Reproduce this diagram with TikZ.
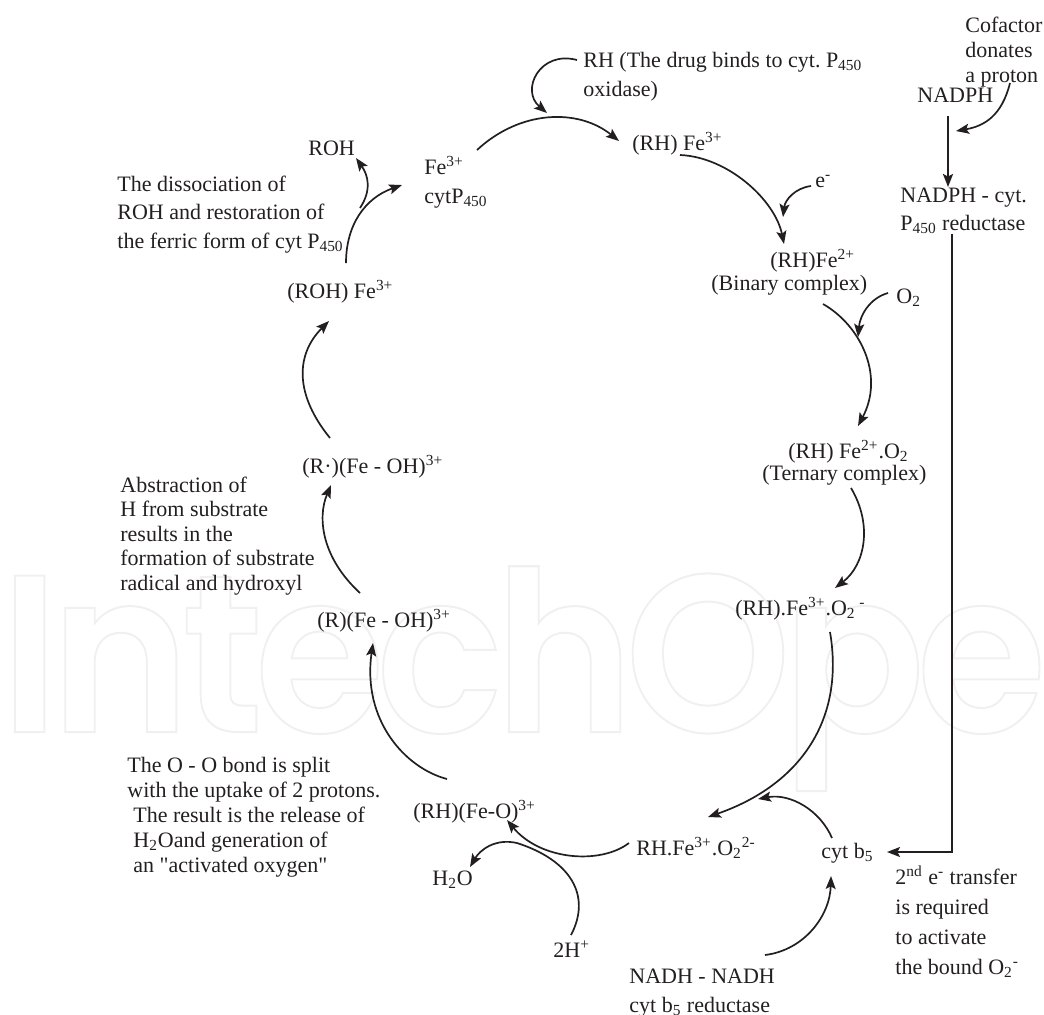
\documentclass[tikz,border=0pt]{standalone}
\usepackage{fontspec}
\setmainfont{Liberation Serif}
\newfontfamily\quotefont{Liberation Serif}
\newfontfamily\markfont[UprightFont=* SemiBold,LetterSpace=-4]{Poppins}
\usetikzlibrary{arrows.meta}
\definecolor{inkdark}{HTML}{231F20}
\tikzset{
    lbl/.style={inner sep=0pt, anchor=base west, align=left, text=inkdark, font=\fontsize{11}{14.5}\selectfont},
    arc/.style={draw=inkdark, line width=0.85pt, -{Stealth[length=6.5pt,width=5pt,inset=1.3pt]}},
    watermark/.style={inner sep=0pt, anchor=base west, xscale=0.94, transform shape, font=\markfont\fontsize{112}{112}\selectfont}
}

\begin{document}
\begin{tikzpicture}[x=0.5pt, y=-0.5pt]
    \useasboundingbox (0,0) rectangle (1044,1014);

    % watermark
    \node[watermark] (intech) at (0,732) {\special{pdf:code 1 Tr 1 w 0.94 G}IntechOpen\special{pdf:code 0 Tr 0 G}};

    % upper half of the cycle
    \node[lbl] (fe) at (424,203) {Fe\textsuperscript{3+}\\cytP\textsubscript{450}};
    \node[lbl] (drug) at (583,96) {RH (The drug binds to cyt.\ P\textsubscript{450}\\oxidase)};
    \node[lbl] (rhfe) at (632,150) {(RH) Fe\textsuperscript{3+}};
    \node[lbl] (elec) at (815,187) {e\textsuperscript{-}};
    \node[lbl] (rhfeii) at (770,267) {(RH)Fe\textsuperscript{2+}};
    \node[lbl] (binary) at (711,290) {(Binary complex)};
    \node[lbl] (oxy) at (896,303) {O\textsubscript{2}};
    \node[lbl] (ternfe) at (788,458) {(RH) Fe\textsuperscript{2+}.O\textsubscript{2}};
    \node[lbl] (ternary) at (762,480) {(Ternary complex)};
    \node[lbl] (supero) at (735,615) {(RH).Fe\textsuperscript{3+}.O\textsubscript{2}\,\textsuperscript{-}};

    % lower half of the cycle
    \node[lbl] (peroxo) at (636,855) {RH.Fe\textsuperscript{3+}.O\textsubscript{2}\textsuperscript{2-}};
    \node[lbl] (feo) at (413,818) {(RH)(Fe-O)\textsuperscript{3+}};
    \node[lbl] (water) at (432,885) {H\textsubscript{2}O};
    \node[lbl] (twoh) at (553,957) {2H\textsuperscript{+}};
    \node[lbl] (rfe) at (317,627) {(R)(Fe - OH)\textsuperscript{3+}};
    \node[lbl] (rdot) at (302,473) {(R\textperiodcentered)(Fe - OH)\textsuperscript{3+}};
    \node[lbl] (rohfe) at (287,298) {(ROH) Fe\textsuperscript{3+}};
    \node[lbl] (roh) at (308,155) {ROH};

    % electron supply
    \node[lbl, font=\fontsize{11}{12.5}\selectfont] (cofactor) at (965,82) {Cofactor\\donates\\a proton};
    \node[lbl] (nadph) at (917,102) {NADPH};
    \node[lbl, font=\fontsize{11}{14}\selectfont] (reductase) at (900,230) {NADPH - cyt.\\P\textsubscript{450} reductase};
    \node[lbl] (cytb) at (821,858) {cyt b\textsubscript{5}};
    \node[lbl] (nadh) at (629,1012) {NADH - NADH\\cyt b\textsubscript{5} reductase};

    % notes
    \node[lbl, font=\fontsize{11}{14.25}\selectfont] (dissnote) at (117,248) {The dissociation of\\ROH and restoration of\\the ferric form of cyt P\textsubscript{450}};
    \node[lbl, font=\fontsize{11}{12.25}\selectfont] (abstrnote) at (120,590) {Abstraction of\\H from substrate\\results in the\\formation of substrate\\radical and hydroxyl};
    \node[lbl, font=\fontsize{11}{12.5}\selectfont] (splitnote) at (127,872) {The O - O bond is split\\with the uptake of 2 protons.\\\hspace*{3pt}The result is the release of\\\hspace*{3pt}H\textsubscript{2}Oand generation of\\\hspace*{3pt}{\quotefont an "activated oxygen"}};
    \node[lbl, font=\fontsize{11}{15}\selectfont] (transfernote) at (895,974) {2\textsuperscript{nd} e\textsuperscript{-} transfer\\is required\\to activate\\the bound O\textsubscript{2}\textsuperscript{-}};

    % free ends on other arrows
    \coordinate (bindpt) at (547,113);
    \coordinate (splitpt) at (360,208);
    \coordinate (elecpt) at (783,217);
    \coordinate (oxypt) at (858,337);
    \coordinate (cytpt) at (758,799);
    \coordinate (protonpt) at (956,131);

    % the cycle
    \draw[arc] ([shift={(53,-53)}]fe.base west) .. controls (520,110) and (578,108) .. ([shift={(-13,-9)}]rhfe.base west);
    \draw[arc] ([shift={(48,5)}]rhfe.base west) .. controls (728,157) and (775,200) .. ([shift={(14,-23)}]rhfeii.base west);
    \draw[arc] ([shift={(112,14)}]binary.base west) .. controls (860,325) and (885,375) .. ([shift={(70,-32)}]ternfe.base west);
    \draw[arc] ([shift={(89,8)}]ternary.base west) .. controls (873,525) and (865,565) .. ([shift={(100,-27)}]supero.base west);
    \draw[arc] ([shift={(95,17)}]supero.base west) .. controls (845,720) and (800,785) .. ([shift={(72,-38)}]peroxo.base west);
    \draw[arc] ([shift={(-7,-12)}]peroxo.base west) .. controls (600,865) and (540,860) .. ([shift={(94,2)}]feo.base west);
    \draw[arc] ([shift={(34,-39)}]feo.base west) .. controls (405,768) and (362,720) .. ([shift={(56,16)}]rfe.base west);
    \draw[arc] ([shift={(43,-34)}]rfe.base west) .. controls (322,558) and (317,518) .. ([shift={(29,12)}]rdot.base west);
    \draw[arc] ([shift={(28,-35)}]rdot.base west) .. controls (295,395) and (295,355) .. ([shift={(42,23)}]rohfe.base west);
    \draw[arc] ([shift={(59,-35)}]rohfe.base west) .. controls (346,225) and (365,198) .. ([shift={(-22,-18)}]fe.base west);

    % side arrows
    \draw[arc] ([shift={(-6,-36)}]drug.base west) .. controls (540,50) and (520,90) .. (bindpt);
    \draw[arc] (splitpt) .. controls (372,190) and (368,175) .. ([shift={(48,3)}]roh.base west);
    \draw[arc] ([shift={(-4,-1)}]elec.base west) .. controls (795,188) and (785,200) .. (elecpt);
    \draw[arc] ([shift={(-8,-10)}]oxy.base west) .. controls (870,298) and (860,315) .. (oxypt);
    \draw[arc] ([shift={(18,-22)}]twoh.base west) .. controls (592,895) and (570,860) .. (517,843) .. controls (495,838) and (480,850) .. ([shift={(38,-18)}]water.base west);
    \draw[arc] ([shift={(11,-20)}]cytb.base west) .. controls (820,810) and (790,793) .. (cytpt);
    \draw[arc] ([shift={(136,-57)}]nadh.base west) .. controls (805,950) and (830,915) .. ([shift={(10,18)}]cytb.base west);
    \draw[arc] ([shift={(45,1)}]cofactor.base west) .. controls (1002,115) and (985,126) .. (protonpt);
    \draw[arc, line width=1.2pt] ([shift={(31,14)}]nadph.base west) -- ([shift={(48,-43)}]reductase.base west);
    \draw[arc] ([shift={(52,4)}]reductase.base west) |- ([shift={(66,-6)}]cytb.base west);
\end{tikzpicture}
\end{document}
